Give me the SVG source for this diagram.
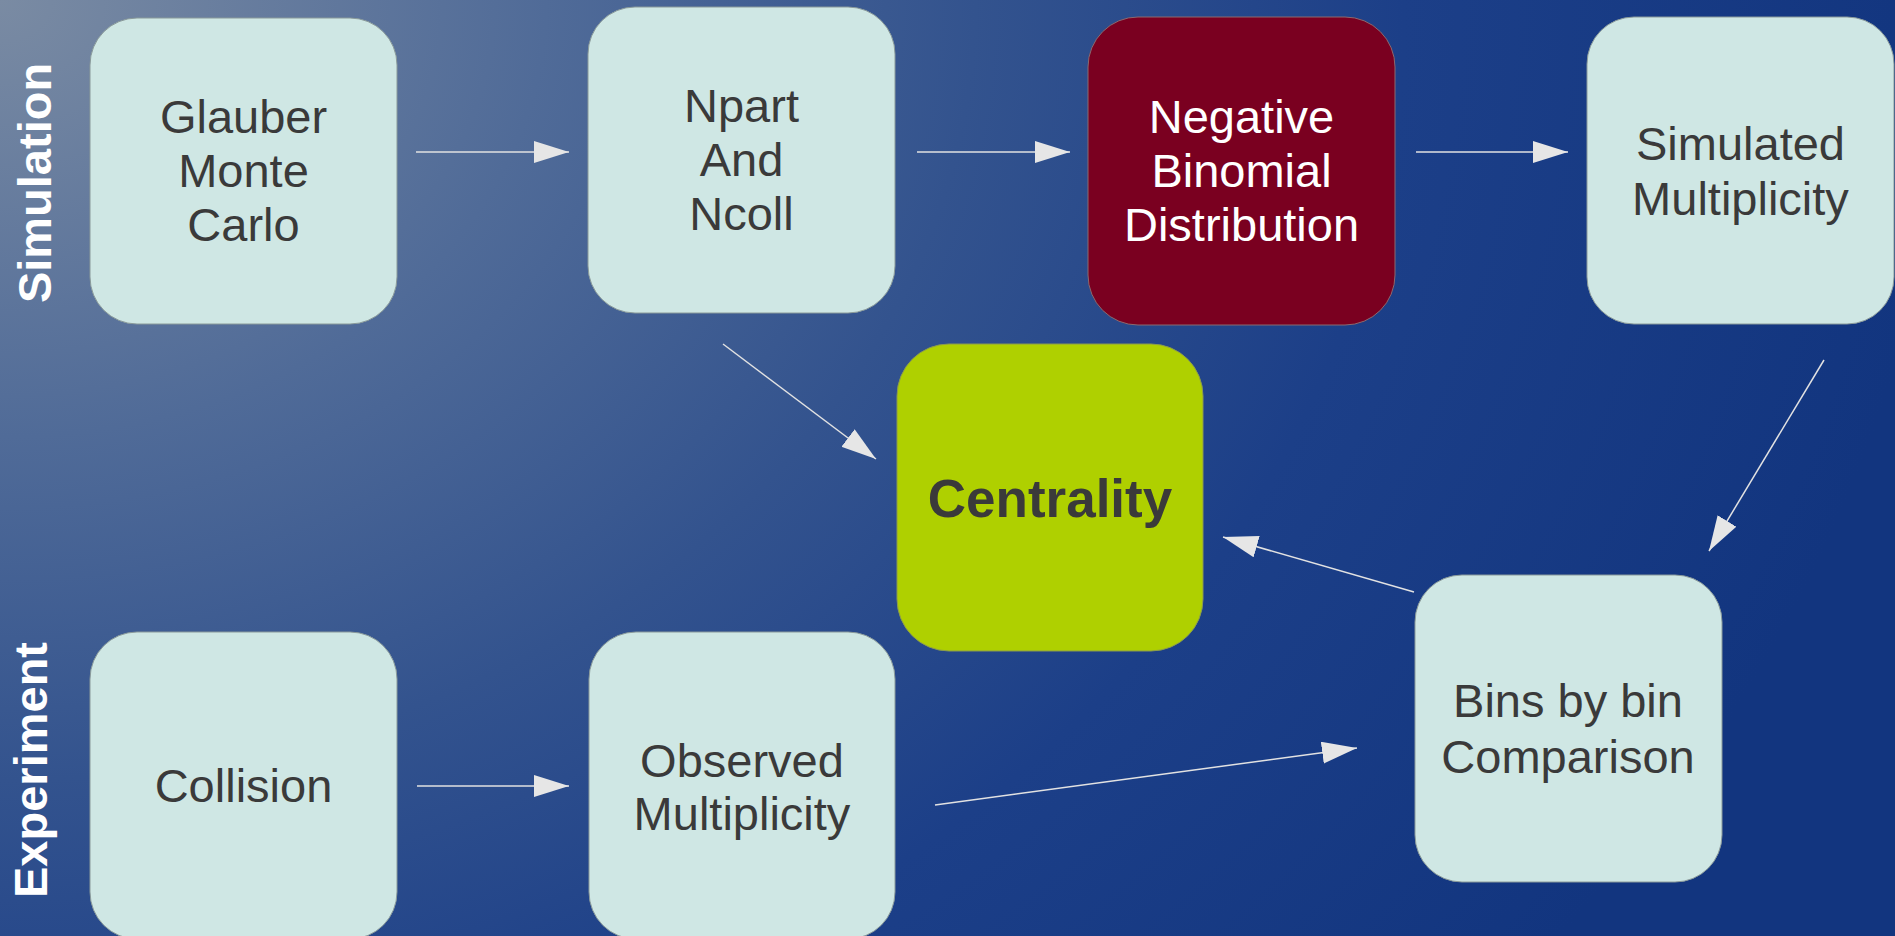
<svg xmlns="http://www.w3.org/2000/svg" width="1895" height="936" viewBox="0 0 1895 936">
  <defs>
    <radialGradient id="bg" gradientUnits="userSpaceOnUse" cx="0" cy="0" r="1950" gradientTransform="scale(1,0.8)">
      <stop offset="0" stop-color="#7a8ba3"/>
      <stop offset="0.28" stop-color="#506b98"/>
      <stop offset="0.5" stop-color="#33538e"/>
      <stop offset="0.72" stop-color="#1c3f88"/>
      <stop offset="1" stop-color="#12357f"/>
    </radialGradient>
    <marker id="arr" markerUnits="userSpaceOnUse" markerWidth="36" markerHeight="24" refX="35" refY="11" orient="auto" viewBox="0 0 36 24">
      <path d="M0,0 L35,11 L0,22 z" fill="#e6e6e6"/>
    </marker>
  </defs>
  <style>
    .box { fill: #cfe7e4; stroke: #8a9a9a; stroke-width: 1; }
    .t { font-family: "Liberation Sans", Arial, sans-serif; font-size: 47px; fill: #3a3a3a; text-anchor: middle; }
    .w { fill: #ffffff; }
    .side { font-family: "Liberation Sans", Arial, sans-serif; font-size: 47px; font-weight: bold; fill: #ffffff; text-anchor: middle; }
    .c { fill: none; stroke: #e2e2e2; stroke-width: 1.5; marker-end: url(#arr); }
  </style>
  <rect x="0" y="0" width="1895" height="936" fill="url(#bg)"/>

  <text class="side" transform="translate(51,183) rotate(-90)">Simulation</text>
  <text class="side" transform="translate(47,770) rotate(-90)">Experiment</text>

  <g id="glauber">
    <rect class="box" x="90" y="18" width="307" height="306" rx="47"/>
    <text class="t" x="243.5" y="133">Glauber</text>
    <text class="t" x="243.5" y="187">Monte</text>
    <text class="t" x="243.5" y="241">Carlo</text>
  </g>
  <g id="npart">
    <rect class="box" x="588" y="7" width="307" height="306" rx="47"/>
    <text class="t" x="741.5" y="122">Npart</text>
    <text class="t" x="741.5" y="176">And</text>
    <text class="t" x="741.5" y="230">Ncoll</text>
  </g>
  <g id="negbin">
    <rect x="1088" y="17" width="307" height="308" rx="50" fill="#7a0020" stroke="#8a6a70" stroke-width="1"/>
    <text class="t w" x="1241.5" y="133">Negative</text>
    <text class="t w" x="1241.5" y="187">Binomial</text>
    <text class="t w" x="1241.5" y="241">Distribution</text>
  </g>
  <g id="simulated">
    <rect class="box" x="1587" y="17" width="307" height="307" rx="47"/>
    <text class="t" x="1740.5" y="160">Simulated</text>
    <text class="t" x="1740.5" y="215">Multiplicity</text>
  </g>
  <g id="centrality">
    <rect x="897" y="344" width="306" height="307" rx="52" fill="#afd000" stroke="#8a9a50" stroke-width="1"/>
    <text class="t" x="1050" y="517" style="font-size:53px;font-weight:bold">Centrality</text>
  </g>
  <g id="collision">
    <rect class="box" x="90" y="632" width="307" height="307" rx="47"/>
    <text class="t" x="243.5" y="802">Collision</text>
  </g>
  <g id="observed">
    <rect class="box" x="589" y="632" width="306" height="307" rx="47"/>
    <text class="t" x="742" y="777">Observed</text>
    <text class="t" x="742" y="830">Multiplicity</text>
  </g>
  <g id="bins">
    <rect class="box" x="1415" y="575" width="307" height="307" rx="47"/>
    <text class="t" x="1568" y="717">Bins by bin</text>
    <text class="t" x="1568" y="773">Comparison</text>
  </g>

  <g id="connectors">
    <line class="c" x1="416" y1="152" x2="569" y2="152"/>
    <line class="c" x1="917" y1="152" x2="1070" y2="152"/>
    <line class="c" x1="1416" y1="152" x2="1568" y2="152"/>
    <line class="c" x1="1824" y1="360" x2="1709" y2="551"/>
    <line class="c" x1="723" y1="344" x2="876" y2="459"/>
    <line class="c" x1="1414" y1="592" x2="1223" y2="537"/>
    <line class="c" x1="417" y1="786" x2="569" y2="786"/>
    <line class="c" x1="935" y1="805" x2="1357" y2="748"/>
  </g>
</svg>
